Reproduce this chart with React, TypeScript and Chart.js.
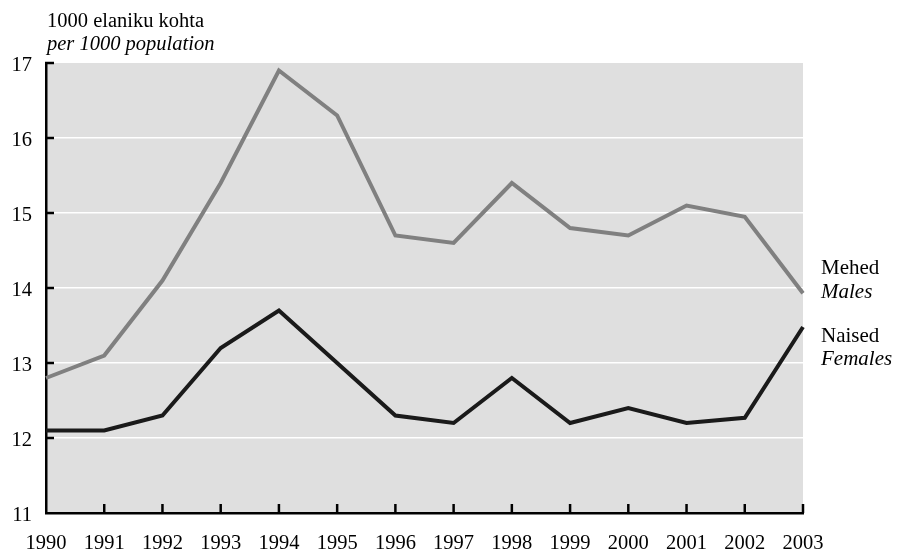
import React, { useEffect, useRef } from "react";
import { Chart, registerables } from "chart.js";

Chart.register(...registerables);

const years = ["1990","1991","1992","1993","1994","1995","1996","1997","1998","1999","2000","2001","2002","2003"];
const males = [12.8, 13.1, 14.1, 15.4, 16.9, 16.3, 14.7, 14.6, 15.4, 14.8, 14.7, 15.1, 14.95, 13.93];
const females = [12.1, 12.1, 12.3, 13.2, 13.7, 13.0, 12.3, 12.2, 12.8, 12.2, 12.4, 12.2, 12.27, 13.48];
const yMin = 11;
const yMax = 17;
const headerEt = "1000 elaniku kohta";
const headerEn = "per 1000 population";
const malesEt = "Mehed";
const malesEn = "Males";
const femalesEt = "Naised";
const femalesEn = "Females";

const FONT = "'Liberation Serif', 'Times New Roman', serif";

const decorPlugin = {
  id: "decor",
  beforeDraw(chart: any) {
    const { ctx, chartArea } = chart;
    ctx.save();
    ctx.fillStyle = "#dfdfdf";
    ctx.fillRect(chartArea.left, chartArea.top, chartArea.right - chartArea.left, chartArea.bottom - chartArea.top);
    ctx.restore();
  },
  afterDraw(chart: any) {
    const { ctx, chartArea } = chart;
    const xs = chart.scales.x;
    const ys = chart.scales.y;
    ctx.save();
    ctx.strokeStyle = "#000";
    ctx.lineWidth = 2.5;
    for (let v = yMin + 1; v <= yMax; v++) {
      const py = ys.getPixelForValue(v);
      ctx.beginPath();
      ctx.moveTo(chartArea.left - 1, py);
      ctx.lineTo(chartArea.left + 8, py);
      ctx.stroke();
    }
    for (let i = 1; i < years.length; i++) {
      const px = xs.getPixelForValue(i);
      ctx.beginPath();
      ctx.moveTo(px, chartArea.bottom);
      ctx.lineTo(px, chartArea.bottom - 9);
      ctx.stroke();
    }
    ctx.fillStyle = "#000";
    ctx.textAlign = "left";
    ctx.textBaseline = "alphabetic";
    ctx.font = `20.5px ${FONT}`;
    ctx.fillText(headerEt, 47, 27);
    ctx.font = `italic 20.5px ${FONT}`;
    ctx.fillText(headerEn, 47, 50);
    const lx = chartArea.right + 18;
    ctx.font = `21px ${FONT}`;
    ctx.fillText(malesEt, lx, 274);
    ctx.fillText(femalesEt, lx, 342);
    ctx.font = `italic 21px ${FONT}`;
    ctx.fillText(malesEn, lx, 298);
    ctx.fillText(femalesEn, lx, 365);
    ctx.restore();
  },
};

export default function App() {
  const ref = useRef<HTMLCanvasElement | null>(null);
  useEffect(() => {
    if (!ref.current) return;
    const chart = new Chart(ref.current, {
      type: "line",
      data: {
        labels: years,
        datasets: [
          {
            label: "Mehed / Males",
            data: males,
            borderColor: "#808080",
            borderWidth: 4,
            pointRadius: 0,
            tension: 0,
          },
          {
            label: "Naised / Females",
            data: females,
            borderColor: "#1a1a1a",
            borderWidth: 4,
            pointRadius: 0,
            tension: 0,
          },
        ],
      },
      options: {
        animation: false,
        responsive: false,
        maintainAspectRatio: false,
        layout: { padding: { top: 63, right: 95, left: 0, bottom: 0 } },
        plugins: { legend: { display: false }, tooltip: { enabled: false }, title: { display: false } },
        scales: {
          x: {
            type: "category",
            offset: false,
            grid: { display: false, drawTicks: false },
            border: { display: true, color: "#000", width: 2.5 },
            ticks: {
              color: "#000",
              font: { family: FONT, size: 20.5 },
              padding: 18,
              maxRotation: 0,
              autoSkip: false,
            },
            afterFit(scale: any) {
              scale.height = 39;
            },
          },
          y: {
            min: yMin,
            max: yMax,
            grid: {
              drawTicks: false,
              color: (c: any) => (c.tick && (c.tick.value === yMin || c.tick.value === yMax) ? "rgba(0,0,0,0)" : "#ffffff"),
              lineWidth: 1.5,
            },
            border: { display: true, color: "#000", width: 2.5 },
            ticks: {
              stepSize: 1,
              color: "#000",
              font: { family: FONT, size: 20.5 },
              padding: 14,
              labelOffset: 3,
            },
            afterFit(scale: any) {
              scale.width = 46;
            },
          },
        },
      },
      plugins: [decorPlugin],
    });
    return () => chart.destroy();
  }, []);
  return (
    <div style={{ position: "absolute", left: 0, top: 0, width: 898, height: 552, background: "#fff" }}>
      <canvas ref={ref} width={898} height={552} style={{ width: 898, height: 552, display: "block" }} />
    </div>
  );
}
